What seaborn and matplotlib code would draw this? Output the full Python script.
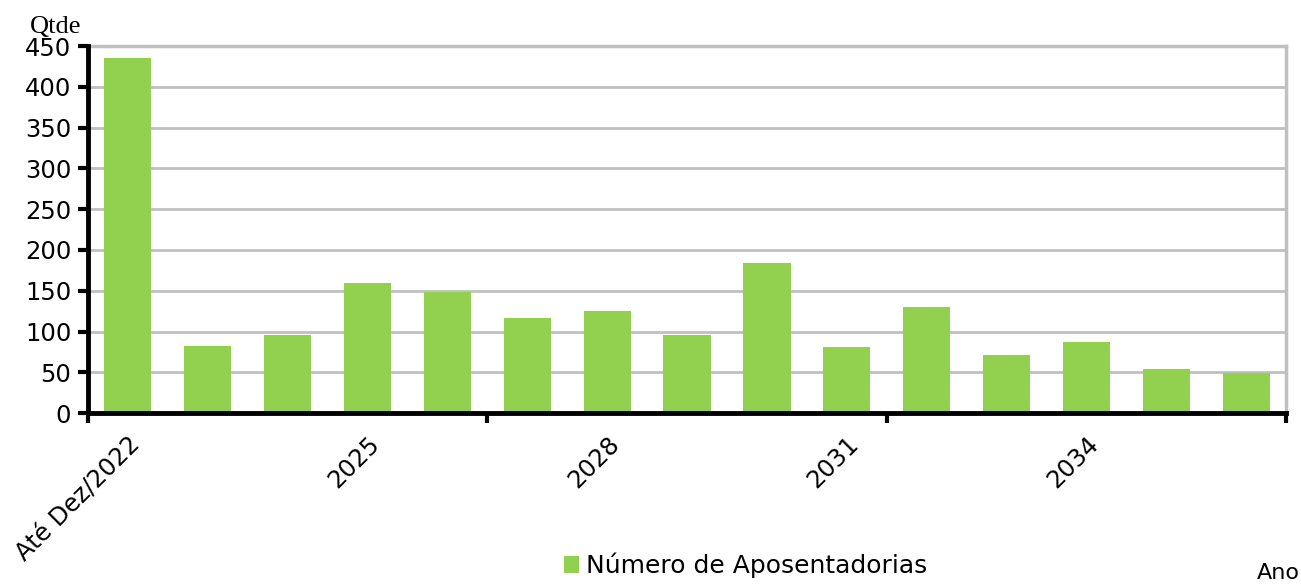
import matplotlib
matplotlib.use('Agg')
import matplotlib.pyplot as plt
import seaborn as sns
import pandas as pd
import numpy as np

# dados
categorias = ["Até Dez/2022", "2023", "2024", "2025", "2026", "2027", "2028", "2029",
              "2030", "2031", "2032", "2033", "2034", "2035", "2036"]
aposentadorias = [435, 82, 96, 159, 148, 116, 125, 96, 184, 81, 130, 71, 87, 54, 49]
rotulos_y = [0, 50, 100, 150, 200, 250, 300, 350, 400, 450]

df = pd.DataFrame({"Ano": categorias, "Qtde": aposentadorias})

sns.set_style("white")
plt.rcParams['font.family'] = ['DejaVu Sans']
plt.rcParams['text.color'] = 'black'

fig = plt.figure(figsize=(13.01, 5.85), dpi=100)
ax = fig.add_axes([0.0676, 0.294, 0.921, 0.627])

sns.barplot(data=df, x="Ano", y="Qtde", color="#92D050", width=0.59,
            saturation=1, ax=ax, label="Número de Aposentadorias", zorder=3,
            linewidth=0, edgecolor="none")

ax.set_ylim(0, 450)
ax.set_xlim(-0.5, len(categorias) - 0.5)
ax.set_yticks(rotulos_y)
ax.set_yticklabels([str(v) for v in rotulos_y], fontsize=17.5, color="black")
ax.yaxis.grid(True, color="#c0c0c0", linewidth=2, zorder=0)

# rotulos a cada 3 anos, marcas a cada 5
ax.set_xticks(range(0, len(categorias), 3))
ax.set_xticklabels([categorias[i] for i in range(0, len(categorias), 3)],
                   rotation=45, ha="right", rotation_mode="anchor", fontsize=17.5,
                   color="black")
ax.tick_params(axis="x", which="major", bottom=False, length=0, pad=14)
ax.set_xticks(np.arange(-0.5, len(categorias), 5), minor=True)
ax.tick_params(axis="x", which="minor", bottom=True, length=7, width=3,
               color="black", direction="out")
ax.tick_params(axis="y", left=True, length=7, width=3, color="black",
               direction="out", pad=5)

for s in ["left", "bottom"]:
    ax.spines[s].set_color("black")
    ax.spines[s].set_linewidth(3.5)
    ax.spines[s].set_zorder(5)
for s in ["top", "right"]:
    ax.spines[s].set_color("#c0c0c0")
    ax.spines[s].set_linewidth(2.5)

ax.set_xlabel("")
ax.set_ylabel("")
fig.text(0.023, 0.943, "Qtde", fontsize=19, family="Liberation Serif")
fig.text(0.966, 0.003, "Ano", fontsize=16, va="bottom")

leg = ax.legend(loc="lower center", bbox_to_anchor=(0.573, -0.01),
                bbox_transform=fig.transFigure, frameon=False, fontsize=18,
                handlelength=0.6, handleheight=0.7, handletextpad=0.3,
                borderaxespad=0.1)
for t in leg.get_texts():
    t.set_color("black")

fig.savefig("out.png", dpi=100)
